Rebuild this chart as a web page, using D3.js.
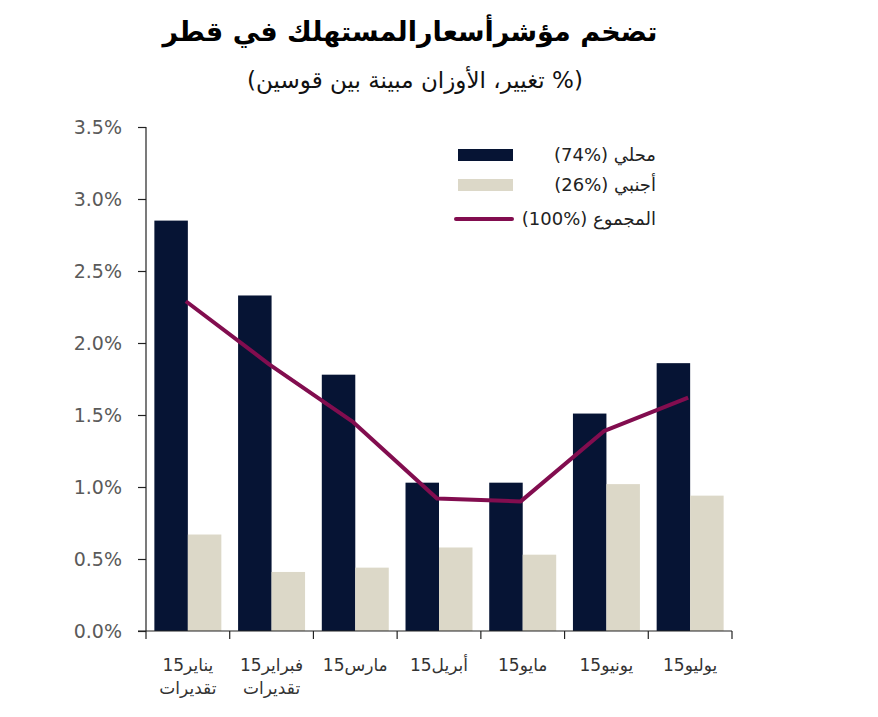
<!DOCTYPE html>
<html>
<head>
<meta charset="utf-8">
<script src="https://cdn.jsdelivr.net/npm/d3@7"></script>
<style>
  html, body { margin: 0; padding: 0; background: #fff; }
  text { font-family: "DejaVu Sans", sans-serif; }
</style>
</head>
<body>
<svg id="chart" width="878" height="717"></svg>
<script>
const categories = ["يناير15", "فبراير15", "مارس15", "أبريل15", "مايو15", "يونيو15", "يوليو15"];
const categorySub = ["تقديرات", "تقديرات", "", "", "", "", ""];
const localValues = [2.85, 2.33, 1.78, 1.03, 1.03, 1.51, 1.86];
const foreignValues = [0.67, 0.41, 0.44, 0.58, 0.53, 1.02, 0.94];
const totalValues = [2.29, 1.85, 1.45, 0.92, 0.90, 1.39, 1.62];
const yTicks = [0, 0.5, 1.0, 1.5, 2.0, 2.5, 3.0, 3.5];
const seriesNames = ["محلي (%74)", "أجنبي (%26)", "المجموع (%100)"];
const colors = { local: "#061434", foreign: "#dcd8c8", total: "#820d4f" };
const titleText = "تضخم مؤشرأسعارالمستهلك في قطر";
const subtitleText = "(% تغيير، الأوزان مبينة بين قوسين)";

const svg = d3.select("#chart");

const x = d3.scaleBand().domain(categories).range([146, 732]).paddingInner(0).paddingOuter(0);
const xs = d3.scaleBand().domain(["local", "foreign"]).range([0, x.bandwidth()]).paddingInner(0).paddingOuter(0.25);
const y = d3.scaleLinear().domain([0, 3.5]).range([631, 127]);

// Title
svg.append("text").attr("x", 410).attr("y", 41).attr("text-anchor", "middle")
  .attr("direction", "rtl").style("direction", "rtl")
  .attr("font-size", 27).attr("font-weight", "bold").attr("fill", "#000")
  .text(titleText);
svg.append("text").attr("x", 415).attr("y", 88).attr("text-anchor", "middle")
  .attr("direction", "rtl").style("direction", "rtl")
  .attr("font-size", 23).attr("fill", "#111")
  .text(subtitleText);

// Bars
const data = categories.map((c, i) => ({ c, local: localValues[i], foreign: foreignValues[i], total: totalValues[i] }));
const g = svg.append("g");
data.forEach(d => {
  ["local", "foreign"].forEach(k => {
    g.append("rect")
      .attr("x", x(d.c) + xs(k))
      .attr("y", y(d[k]))
      .attr("width", xs.bandwidth())
      .attr("height", y(0) - y(d[k]))
      .attr("fill", colors[k]);
  });
});

// Line
const line = d3.line().x(d => x(d.c) + x.bandwidth() / 2 - 2).y(d => y(d.total));
svg.append("path").datum(data).attr("d", line)
  .attr("fill", "none").attr("stroke", colors.total).attr("stroke-width", 4)
  .attr("stroke-linejoin", "round");

// Y axis
const yAxis = d3.axisLeft(y).tickValues(yTicks).tickSize(8).tickPadding(16)
  .tickFormat(d => d.toFixed(1) + "%");
const ya = svg.append("g").attr("transform", "translate(146,0)").call(yAxis);
ya.select(".domain").attr("stroke", "#222").attr("stroke-width", 1.2).attr("d", "M0," + y(3.5) + "V" + y(0));
ya.selectAll(".tick line").attr("stroke", "#222").attr("stroke-width", 1.2);
ya.selectAll(".tick text").attr("font-size", 19).attr("fill", "#5a5a5a")
  .style("font-family", "'DejaVu Sans', sans-serif");

// X axis
const xa = svg.append("g");
xa.append("line").attr("x1", x.range()[0] - 8).attr("x2", x.range()[1]).attr("y1", y(0)).attr("y2", y(0))
  .attr("stroke", "#222").attr("stroke-width", 1.2);
const bounds = categories.map(c => x(c)).concat([x.range()[1]]);
bounds.forEach(b => {
  xa.append("line").attr("x1", b).attr("x2", b).attr("y1", y(0)).attr("y2", y(0) + 8)
    .attr("stroke", "#222").attr("stroke-width", 1.2);
});
categories.forEach((c, i) => {
  const cx = x(c) + x.bandwidth() / 2;
  xa.append("text").attr("x", cx).attr("y", 671).attr("text-anchor", "middle")
    .attr("direction", "rtl").style("direction", "rtl")
    .attr("font-size", 17).attr("fill", "#333").text(c);
  if (categorySub[i]) {
    xa.append("text").attr("x", cx).attr("y", 694).attr("text-anchor", "middle")
      .attr("direction", "rtl").style("direction", "rtl")
      .attr("font-size", 17).attr("fill", "#333").text(categorySub[i]);
  }
});

// Legend
const lg = svg.append("g");
const legendRows = [
  { name: seriesNames[0], type: "rect", color: colors.local, yc: 155 },
  { name: seriesNames[1], type: "rect", color: colors.foreign, yc: 185 },
  { name: seriesNames[2], type: "line", color: colors.total, yc: 219 }
];
legendRows.forEach(r => {
  if (r.type === "rect") {
    lg.append("rect").attr("x", 458).attr("y", r.yc - 6).attr("width", 55).attr("height", 12).attr("fill", r.color);
  } else {
    lg.append("line").attr("x1", 456).attr("x2", 512).attr("y1", r.yc).attr("y2", r.yc)
      .attr("stroke", r.color).attr("stroke-width", 4).attr("stroke-linecap", "round");
  }
  lg.append("text").attr("x", 656).attr("y", r.yc + 6).attr("text-anchor", "start")
    .attr("direction", "rtl").style("direction", "rtl")
    .attr("font-size", 18).attr("fill", "#222").text(r.name);
});
</script>
</body>
</html>
